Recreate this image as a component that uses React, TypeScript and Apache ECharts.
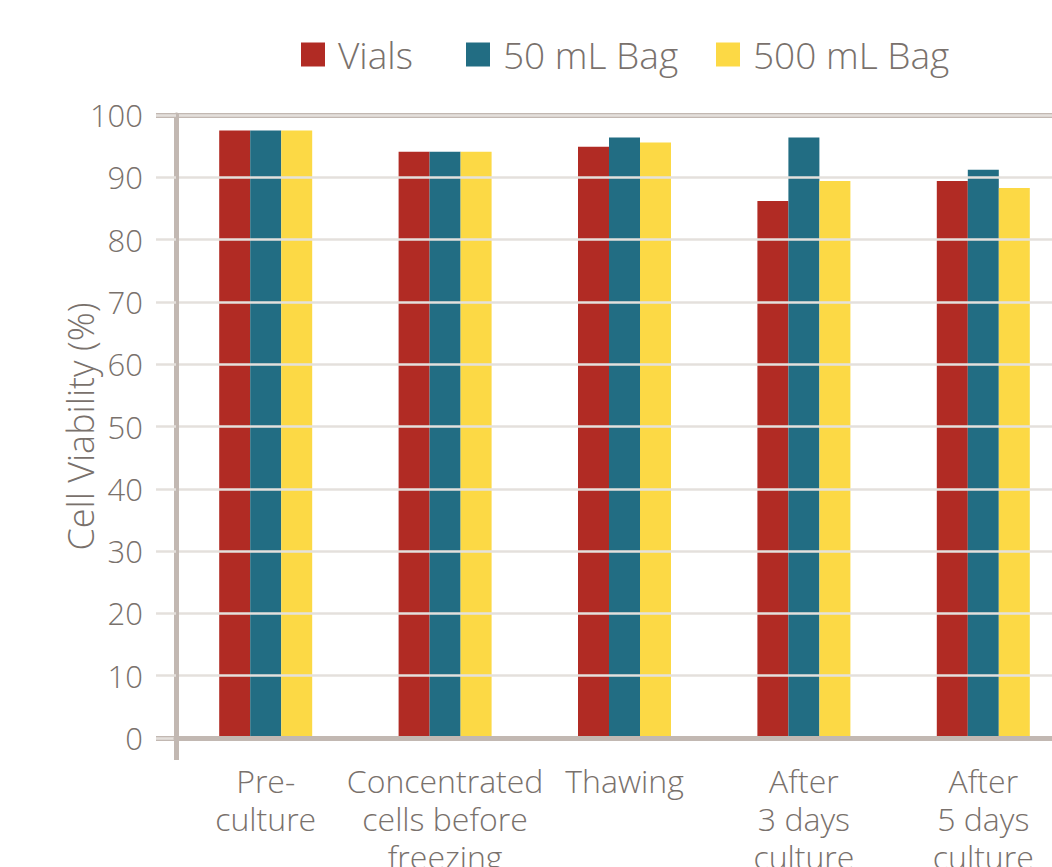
import React, { useEffect, useRef } from "react";
import * as echarts from "echarts";

const categories = [
  "Pre-\nculture",
  "Concentrated\ncells before\nfreezing",
  "Thawing",
  "After\n3 days\nculture",
  "After\n5 days\nculture",
];
const seriesNames = ["Vials", "50 mL Bag", "500 mL Bag"];
const vials = [97.5, 94.1, 94.9, 86.2, 89.4];
const bag50 = [97.5, 94.1, 96.4, 96.4, 91.2];
const bag500 = [97.5, 94.1, 95.6, 89.4, 88.3];
const colors = ["#b12b24", "#226d83", "#fcd945"];
const legendLefts = [301, 466, 716];

const TEXT = "#79716c";
const AXIS = "#c2b8b2";
const GRID = "#e4e0dc";
const FONT = "Open Sans";

export default function App() {
  const ref = useRef<HTMLDivElement>(null);

  useEffect(() => {
    if (!ref.current) return;
    const chart = echarts.init(ref.current, null, { renderer: "svg" });
    const values = [vials, bag50, bag500];
    chart.setOption({
      animation: false,
      color: colors,
      textStyle: { fontFamily: FONT, color: TEXT, fontWeight: 300 },
      legend: seriesNames.map((name, k) => ({
        left: legendLefts[k],
        top: 36,
        padding: 0,
        itemWidth: 24,
        itemHeight: 24,
        icon: "rect",
        textStyle: { fontSize: 37, color: TEXT, fontFamily: FONT, fontWeight: 300, padding: [0, 0, 0, 8] },
        data: [name],
      })),
      grid: { left: 176, right: 0, top: 115, bottom: 129, containLabel: false, outerBoundsMode: "none" },
      xAxis: {
        type: "category",
        data: categories,
        axisLine: { show: true, lineStyle: { color: AXIS, width: 5 } },
        axisTick: {
          show: true,
          interval: (i: number) => i === 0,
          length: 22,
          lineStyle: { color: AXIS, width: 5 },
        },
        axisLabel: {
          interval: 0,
          margin: 23,
          fontSize: 32,
          lineHeight: 38,
          color: TEXT,
          fontFamily: FONT,
          fontWeight: 300,
        },
        z: 5,
      },
      yAxis: [
        {
          type: "value",
          min: 0,
          max: 100,
          interval: 10,
          name: "Cell Viability (%)",
          nameLocation: "middle",
          nameGap: 78,
          nameMoveOverlap: false,
          nameTextStyle: { fontSize: 36, color: TEXT, fontFamily: FONT, fontWeight: 300 },
          axisLine: { show: true, lineStyle: { color: AXIS, width: 5 } },
          axisTick: { show: true, length: 20, lineStyle: { color: GRID, width: 2.5 } },
          axisLabel: { margin: 33, fontSize: 31, color: TEXT, fontFamily: FONT, fontWeight: 300 },
          splitLine: { show: true, lineStyle: { color: GRID, width: 2.5 } },
          z: 4,
        },
        {
          type: "value",
          position: "left",
          min: 0,
          max: 100,
          interval: 100,
          axisLine: { show: false },
          axisTick: { show: true, length: 20, lineStyle: { color: AXIS, width: 5 } },
          axisLabel: { show: false },
          splitLine: { show: true, lineStyle: { color: AXIS, width: 5 } },
        },
      ],
      series: seriesNames.map((name, k) => ({
        name,
        type: "bar",
        data: values[k],
        barWidth: 31,
        barGap: "0%",
        itemStyle: { color: colors[k] },
        z: 3,
      })),
    });
    return () => chart.dispose();
  }, []);

  return (
    <div
      style={{ position: "absolute", left: 0, top: 0, width: 1052, height: 867, overflow: "hidden", background: "#fff" }}
    >
      <div ref={ref} style={{ width: 1073, height: 867 }} />
    </div>
  );
}
